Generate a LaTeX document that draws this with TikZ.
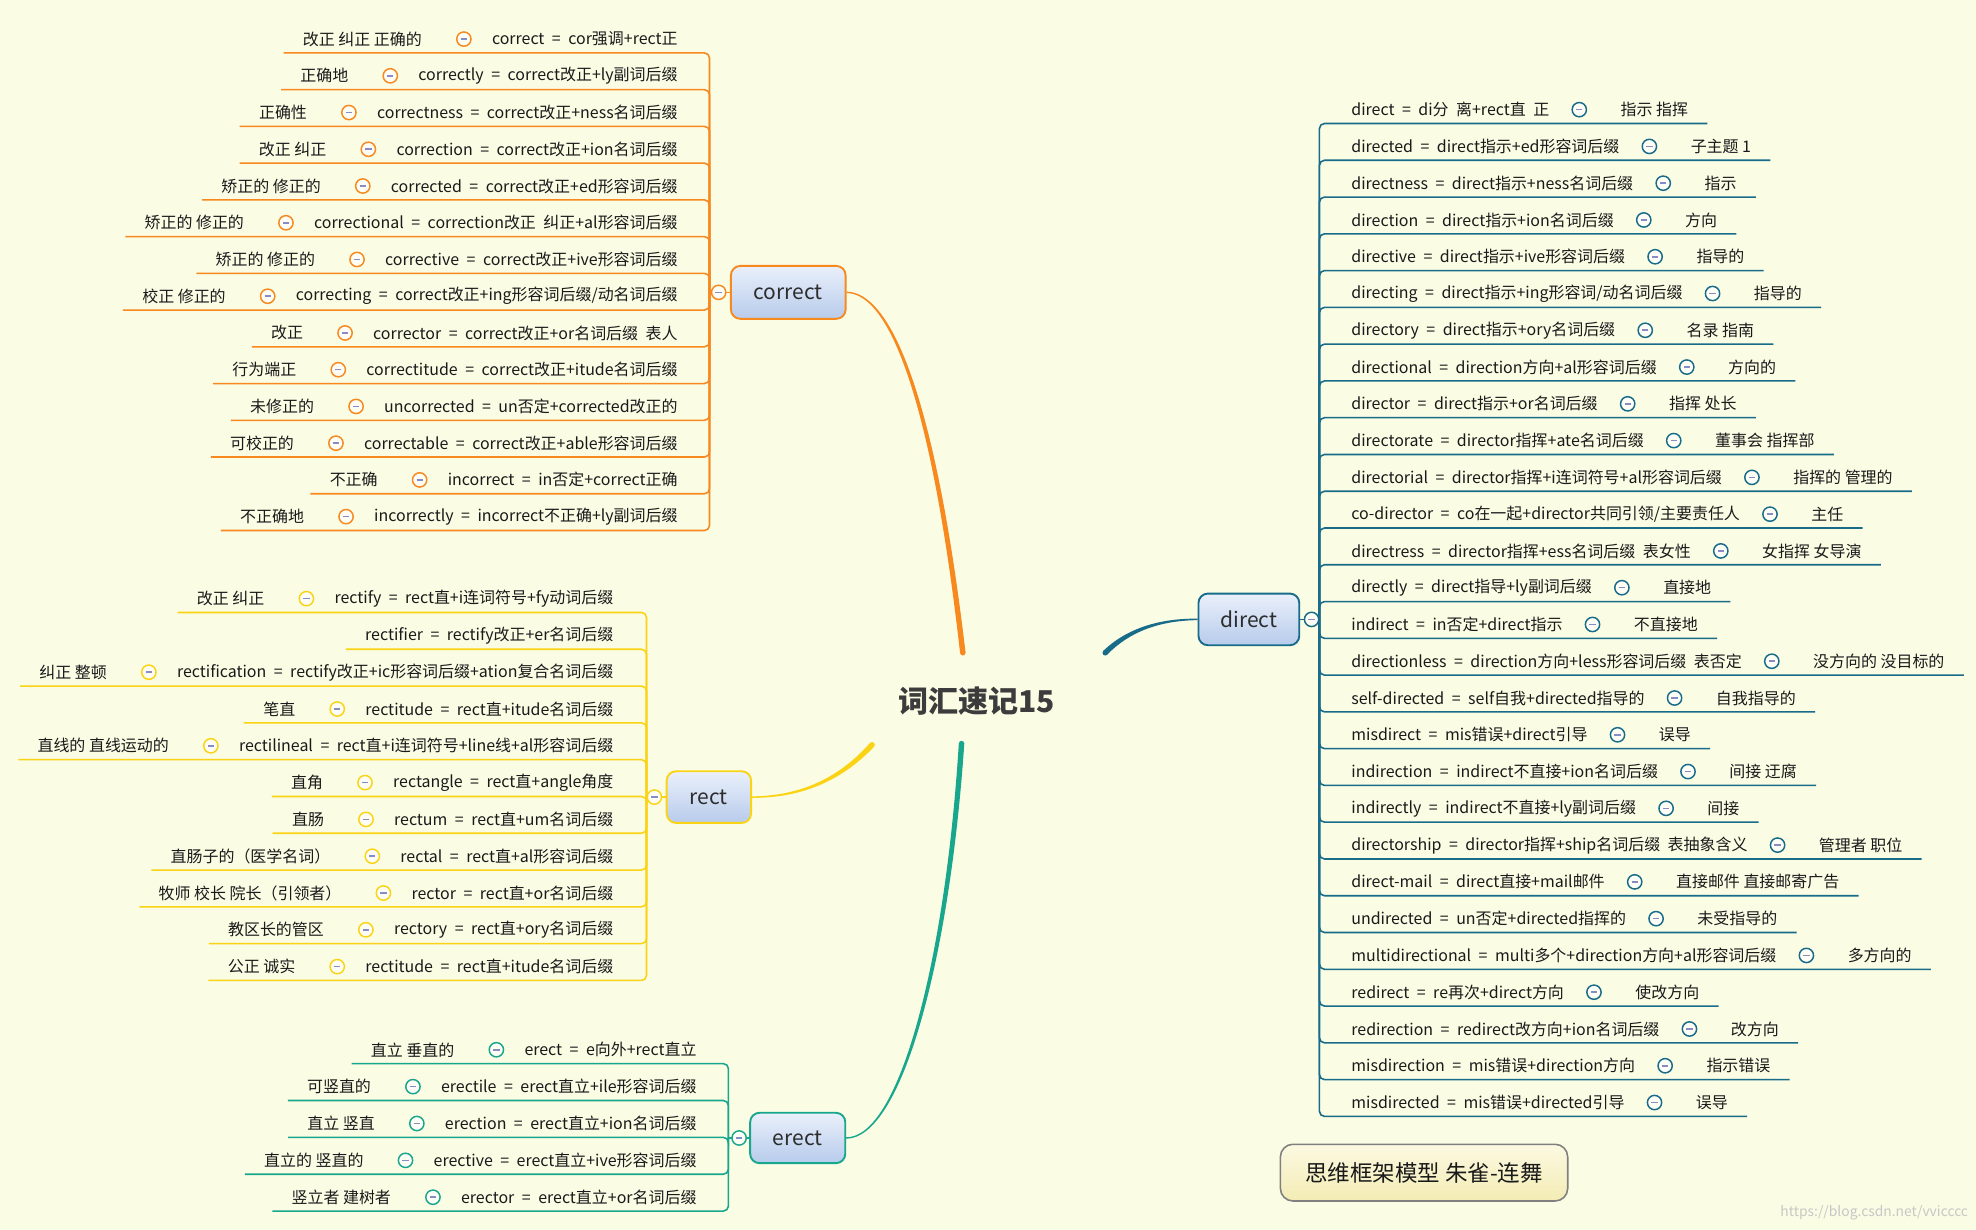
\documentclass[tikz,border=0pt]{standalone}
\usepackage{fontspec}
\setmainfont{Noto Sans CJK SC}
\newfontfamily\fmfont{Noto Sans CJK SC}[WordSpace=2.1]
\usetikzlibrary{calc}
\definecolor{bgc}{RGB}{250,252,228}
\definecolor{corC}{RGB}{247,137,30}
\definecolor{recC}{RGB}{250,212,20}
\definecolor{ereC}{RGB}{24,166,140}
\definecolor{dirC}{RGB}{24,108,138}
\definecolor{minC}{RGB}{135,140,196}
\definecolor{topT}{RGB}{234,240,251}
\definecolor{topB}{RGB}{183,203,235}
\definecolor{txt}{RGB}{26,26,26}
\definecolor{topicT}{RGB}{45,45,45}
\definecolor{centT}{RGB}{60,60,60}
\definecolor{boxT}{RGB}{252,249,226}
\definecolor{boxBot}{RGB}{243,236,180}
\definecolor{boxB}{RGB}{128,128,128}
\tikzset{
 leaf/.style={inner sep=0pt, font=\fontsize{7.6pt}{9pt}\selectfont, text=txt},
 fleaf/.style={inner sep=0pt, font=\fmfont\fontsize{7.6pt}{9pt}\selectfont, text=txt},
 circ/.style={circle, draw=#1, line width=0.7pt, fill=white!70!bgc, minimum size=6.8pt, inner sep=0pt,
   path picture={\draw[minC, line width=0.75pt] ([xshift=-1.5pt]path picture bounding box.center) -- ([xshift=1.5pt]path picture bounding box.center);}},
 uline/.style={draw=#1, line width=0.75pt, rounded corners=2.4pt},
 topic/.style={draw=#1, line width=0.9pt, rounded corners=4.5pt, top color=topT, bottom color=topB,
   font=\fontsize{10pt}{12pt}\selectfont, text=topicT, inner sep=0pt},
}
\newcommand\taper[5]{%
 \fill[#1] ($#2!0.35pt!90:#3$) .. controls ($#3!0.6pt!90:#4$) and ($#4!1.0pt!90:#5$) .. ($#5!1.3pt!-90:#4$)
   -- ($#5!1.3pt!90:#4$) .. controls ($#4!1.0pt!-90:#5$) and ($#3!0.6pt!-90:#4$) .. ($#2!0.35pt!-90:#3$) -- cycle;
 \fill[#1] #5 circle[radius=1.3pt];}
\newcommand\lrow[4]{%
 \node[fleaf,anchor=east] (#1f) at (\fx,#2) {#3};
 \node[circ=\bc] (#1c) at ([xshift=-13.2pt]#1f.west) {};
 \node[leaf,anchor=east] (#1m) at ([xshift=-19.8pt]#1c.center) {#4};
 \draw[uline=\bc] ([shift={(-15,11)}]#1m.west) -- (\bx,#2+11) -- (\bx,\by);
}
\newcommand\rrow[4]{%
 \node[fleaf,anchor=west] (#1f) at (\fx,#2) {#3};
 \node[circ=\bc] (#1c) at ([xshift=14.1pt]#1f.east) {};
 \node[leaf,anchor=west] (#1m) at ([xshift=19.5pt]#1c.center) {#4};
 \draw[uline=\bc] ([shift={(15,11)}]#1m.east) -- (\bx,#2+11) -- (\bx,\by);
}
\begin{document}
\begin{tikzpicture}[x=0.6pt,y=-0.6pt]
\useasboundingbox (0,0) rectangle (1568,976);
\fill[bgc] (0,0) rectangle (1568,976);

% central topic
\node[inner sep=0pt, font=\fontsize{14.3pt}{16pt}\selectfont\bfseries, text=centT] (center) at (775,556) {词汇速记15};

% main topics
\node[topic=corC, minimum width=54.6pt, minimum height=25.2pt] (correct) at (625.5,232) {correct};
\node[topic=recC, minimum width=40.2pt, minimum height=24.6pt] (rect) at (562.5,632.5) {rect};
\node[topic=ereC, minimum width=45.3pt, minimum height=24pt] (erect) at (633,903) {erect};
\node[topic=dirC, minimum width=48pt, minimum height=24.6pt] (direct) at (991,491.5) {direct};

% tapered main branches
\coordinate (oc1) at (705,232); \coordinate (oc2) at (740,310); \coordinate (oend) at (764,518);
\coordinate (yc1) at (640,632.5); \coordinate (yc2) at (670,615); \coordinate (yend) at (692,591);
\coordinate (tc1) at (715,903); \coordinate (tc2) at (752,760); \coordinate (tend) at (763,590);
\coordinate (dc1) at (920,491.5); \coordinate (dc2) at (895,500); \coordinate (dend) at (877,518);
\taper{corC}{(correct.east)}{(oc1)}{(oc2)}{(oend)}
\taper{recC}{(rect.east)}{(yc1)}{(yc2)}{(yend)}
\taper{ereC}{(erect.east)}{(tc1)}{(tc2)}{(tend)}
\taper{dirC}{(direct.west)}{(dc1)}{(dc2)}{(dend)}

% ---------- correct ----------
\def\fx{538}\def\bx{563}\def\by{232}\def\bc{corC}
\draw[uline=corC] (\bx,\by) -- (correct.west);
\node[circ=corC] (corcirc) at ([xshift=-5.4pt]correct.west) {};
\lrow{c1}{31}{correct = cor强调+rect正}{改正 纠正 正确的}
\lrow{c2}{31+29.15*1}{correctly = correct改正+ly副词后缀}{正确地}
\lrow{c3}{31+29.15*2}{correctness = correct改正+ness名词后缀}{正确性}
\lrow{c4}{31+29.15*3}{correction = correct改正+ion名词后缀}{改正 纠正}
\lrow{c5}{31+29.15*4}{corrected = correct改正+ed形容词后缀}{矫正的 修正的}
\lrow{c6}{31+29.15*5}{correctional = correction改正 纠正+al形容词后缀}{矫正的 修正的}
\lrow{c7}{31+29.15*6}{corrective = correct改正+ive形容词后缀}{矫正的 修正的}
\lrow{c8}{31+29.15*7}{correcting = correct改正+ing形容词后缀/动名词后缀}{校正 修正的}
\lrow{c9}{31+29.15*8}{corrector = correct改正+or名词后缀 表人}{改正}
\lrow{c10}{31+29.15*9}{correctitude = correct改正+itude名词后缀}{行为端正}
\lrow{c11}{31+29.15*10}{uncorrected = un否定+corrected改正的}{未修正的}
\lrow{c12}{31+29.15*11}{correctable = correct改正+able形容词后缀}{可校正的}
\lrow{c13}{31+29.15*12}{incorrect = in否定+correct正确}{不正确}
\lrow{c14}{31+29.15*13}{incorrectly = incorrect不正确+ly副词后缀}{不正确地}

% ---------- rect ----------
\def\fx{487}\def\bx{513}\def\by{632.5}\def\bc{recC}
\draw[uline=recC] (\bx,\by) -- (rect.west);
\node[circ=recC] (reccirc) at ([xshift=-5.4pt]rect.west) {};
\lrow{r1}{475}{rectify = rect直+i连词符号+fy动词后缀}{改正 纠正}
\node[fleaf,anchor=east] (r2f) at (\fx,475+29.2) {rectifier = rectify改正+er名词后缀};
\draw[uline=recC] ([shift={(-15,11)}]r2f.west) -- (\bx,475+29.2+11) -- (\bx,\by);
\lrow{r3}{475+29.2*2}{rectification = rectify改正+ic形容词后缀+ation复合名词后缀}{纠正 整顿}
\lrow{r4}{475+29.2*3}{rectitude = rect直+itude名词后缀}{笔直}
\lrow{r5}{475+29.2*4}{rectilineal = rect直+i连词符号+line线+al形容词后缀}{直线的 直线运动的}
\lrow{r6}{475+29.2*5}{rectangle = rect直+angle角度}{直角}
\lrow{r7}{475+29.2*6}{rectum = rect直+um名词后缀}{直肠}
\lrow{r8}{475+29.2*7}{rectal = rect直+al形容词后缀}{直肠子的（医学名词）}
\lrow{r9}{475+29.2*8}{rector = rect直+or名词后缀}{牧师 校长 院长（引领者）}
\lrow{r10}{475+29.2*9}{rectory = rect直+ory名词后缀}{教区长的管区}
\lrow{r11}{475+29.2*10}{rectitude = rect直+itude名词后缀}{公正 诚实}

% ---------- erect ----------
\def\fx{553}\def\bx{578}\def\by{903}\def\bc{ereC}
\draw[uline=ereC] (\bx,\by) -- (erect.west);
\node[circ=ereC] (erecirc) at ([xshift=-4.8pt]erect.west) {};
\lrow{e1}{833}{erect = e向外+rect直立}{直立 垂直的}
\lrow{e2}{833+29.25}{erectile = erect直立+ile形容词后缀}{可竖直的}
\lrow{e3}{833+29.25*2}{erection = erect直立+ion名词后缀}{直立 竖直}
\lrow{e4}{833+29.25*3}{erective = erect直立+ive形容词后缀}{直立的 竖直的}
\lrow{e5}{833+29.25*4}{erector = erect直立+or名词后缀}{竖立者 建树者}

% ---------- direct ----------
\def\fx{1072}\def\bx{1047}\def\by{491.5}\def\bc{dirC}
\draw[uline=dirC] (direct.east) -- (\bx,\by);
\node[circ=dirC] (dircirc) at ([xshift=5.4pt]direct.east) {};
\rrow{d1}{87}{direct = di分 离+rect直 正}{指示 指挥}
\rrow{d2}{87+29.18*1}{directed = direct指示+ed形容词后缀}{子主题 1}
\rrow{d3}{87+29.18*2}{directness = direct指示+ness名词后缀}{指示}
\rrow{d4}{87+29.18*3}{direction = direct指示+ion名词后缀}{方向}
\rrow{d5}{87+29.18*4}{directive = direct指示+ive形容词后缀}{指导的}
\rrow{d6}{87+29.18*5}{directing = direct指示+ing形容词/动名词后缀}{指导的}
\rrow{d7}{87+29.18*6}{directory = direct指示+ory名词后缀}{名录 指南}
\rrow{d8}{87+29.18*7}{directional = direction方向+al形容词后缀}{方向的}
\rrow{d9}{87+29.18*8}{director = direct指示+or名词后缀}{指挥 处长}
\rrow{d10}{87+29.18*9}{directorate = director指挥+ate名词后缀}{董事会 指挥部}
\rrow{d11}{87+29.18*10}{directorial = director指挥+i连词符号+al形容词后缀}{指挥的 管理的}
\rrow{d12}{87+29.18*11}{co-director = co在一起+director共同引领/主要责任人}{主任}
\rrow{d13}{87+29.18*12}{directress = director指挥+ess名词后缀 表女性}{女指挥 女导演}
\rrow{d14}{87+29.18*13}{directly = direct指导+ly副词后缀}{直接地}
\rrow{d15}{87+29.18*14}{indirect = in否定+direct指示}{不直接地}
\rrow{d16}{87+29.18*15}{directionless = direction方向+less形容词后缀 表否定}{没方向的 没目标的}
\rrow{d17}{87+29.18*16}{self-directed = self自我+directed指导的}{自我指导的}
\rrow{d18}{87+29.18*17}{misdirect = mis错误+direct引导}{误导}
\rrow{d19}{87+29.18*18}{indirection = indirect不直接+ion名词后缀}{间接 迂腐}
\rrow{d20}{87+29.18*19}{indirectly = indirect不直接+ly副词后缀}{间接}
\rrow{d21}{87+29.18*20}{directorship = director指挥+ship名词后缀 表抽象含义}{管理者 职位}
\rrow{d22}{87+29.18*21}{direct-mail = direct直接+mail邮件}{直接邮件 直接邮寄广告}
\rrow{d23}{87+29.18*22}{undirected = un否定+directed指挥的}{未受指导的}
\rrow{d24}{87+29.18*23}{multidirectional = multi多个+direction方向+al形容词后缀}{多方向的}
\rrow{d25}{87+29.18*24}{redirect = re再次+direct方向}{使改方向}
\rrow{d26}{87+29.18*25}{redirection = redirect改方向+ion名词后缀}{改方向}
\rrow{d27}{87+29.18*26}{misdirection = mis错误+direction方向}{指示错误}
\rrow{d28}{87+29.18*27}{misdirected = mis错误+directed引导}{误导}

% brand box and watermark
\node[draw=boxB, line width=0.75pt, rounded corners=6pt, top color=boxT, bottom color=boxBot,
  minimum width=136.8pt, minimum height=27pt, inner sep=0pt, text=txt,
  font=\fontsize{10.7pt}{12pt}\selectfont] (brand) at (1130,930.5) {思维框架模型 朱雀-连舞};
\node[anchor=east, inner sep=0pt, text=black!22, font=\fontsize{6.6pt}{8pt}\selectfont] (wm) at (1562,962) {https://blog.csdn.net/vvicccc};
\end{tikzpicture}
\end{document}
